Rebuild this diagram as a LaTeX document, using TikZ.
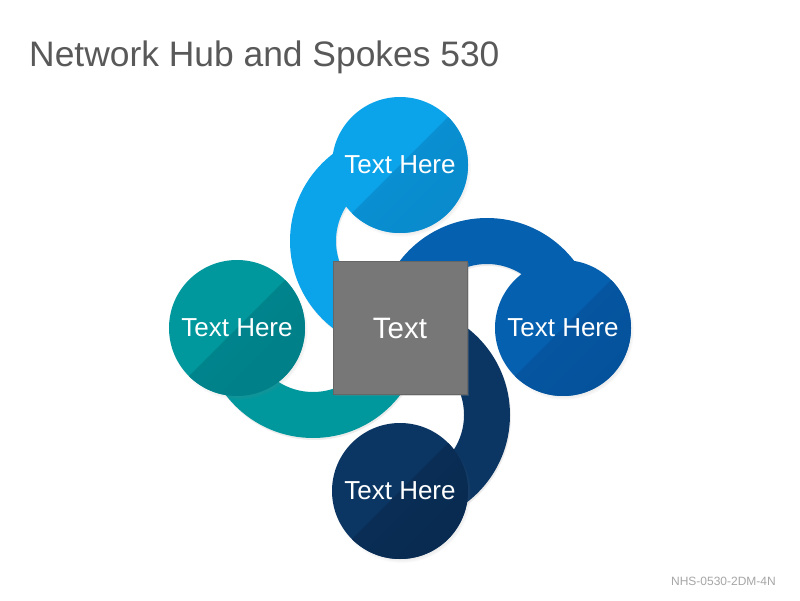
\documentclass[tikz,border=0pt]{standalone}
\usepackage{fontspec}
\setmainfont{Liberation Sans}
\usetikzlibrary{calc,shadows,fadings}
\pgfdeclarelayer{back}
\pgfdeclarelayer{bg}
\pgfsetlayers{back,bg,main}
\definecolor{lbM}{HTML}{0BA4EB}
\definecolor{lbA}{HTML}{0A93D6}
\definecolor{lbB}{HTML}{0883C4}
\definecolor{dbM}{HTML}{0560AF}
\definecolor{dbA}{HTML}{0557A3}
\definecolor{dbB}{HTML}{044E96}
\definecolor{tlM}{HTML}{00989D}
\definecolor{tlA}{HTML}{00878F}
\definecolor{tlB}{HTML}{007983}
\definecolor{nvM}{HTML}{0B3663}
\definecolor{nvA}{HTML}{0A2F58}
\definecolor{nvB}{HTML}{08274B}
\definecolor{titlegray}{HTML}{595959}
\definecolor{footgray}{HTML}{A6A6A6}
\definecolor{hubgray}{HTML}{777777}
\definecolor{hubedge}{HTML}{666666}
\begin{document}
\begin{tikzpicture}[x=1pt,y=1pt,
  spoke/.style n args={3}{circle, minimum size=136pt, inner sep=0pt, fill=#1, text=white,
    font=\fontsize{26}{30}\selectfont,
    circular drop shadow={shadow xshift=1.5pt, shadow yshift=-2.5pt, shadow scale=1.02, opacity=0.35},
    path picture={\shade[top color=#2, bottom color=#3, shading angle=45]
      ($(path picture bounding box.center)+(45:70)$) -- ++(-45:140) -- ++(225:140) -- ++(135:140) -- cycle;}},
  hubbox/.style={rectangle, minimum width=134pt, minimum height=133pt, inner sep=0pt,
    fill=hubgray, draw=hubedge, line width=0.8pt, text=white, font=\fontsize{29.5}{34}\selectfont,
    drop shadow={shadow xshift=1.5pt, shadow yshift=-2pt, opacity=0.3}},
  ringband/.style={fill=#1, drop shadow={shadow xshift=1pt, shadow yshift=-2pt, opacity=0.15}},
  titletext/.style={anchor=base west, inner sep=0pt, text=titlegray, font=\fontsize{35.4}{40}\selectfont},
  foottext/.style={anchor=base east, inner sep=0pt, text=footgray, font=\fontsize{12}{14}\selectfont}
]
\useasboundingbox (0,0) rectangle (800,600);
\begin{pgfonlayer}{back}
\fill[white] (0,0) rectangle (800,600);
\end{pgfonlayer}

\node[titletext] (title) at (29,533) {Network Hub and Spokes 530};
\node[foottext] (code) at (776,15) {NHS-0530-2DM-4N};

\node[hubbox] (hub) at (400,272) {Text};
\node[spoke={lbM}{lbA}{lbB}] (t) at (400,435) {Text Here};
\node[spoke={dbM}{dbA}{dbB}] (r) at (563,272) {Text Here};
\node[spoke={nvM}{nvA}{nvB}] (b) at (400,109) {Text Here};
\node[spoke={tlM}{tlA}{tlB}] (l) at (237,272) {Text Here};

\begin{pgfonlayer}{bg}
\foreach \s/\a/\c in {t/90/lbM, r/0/dbM, b/-90/nvM, l/180/tlM} {
  \coordinate (m\s) at ($(hub.center)!87pt!(\s.center)$);
  \fill[ringband=\c] ($(m\s)+(\a:110)$) arc[start angle=\a, end angle={\a+180}, radius=110]
    -- ($(m\s)+({\a+180}:64)$) arc[start angle={\a+180}, end angle=\a, radius=64] -- cycle;
}
\end{pgfonlayer}
\end{tikzpicture}
\end{document}
